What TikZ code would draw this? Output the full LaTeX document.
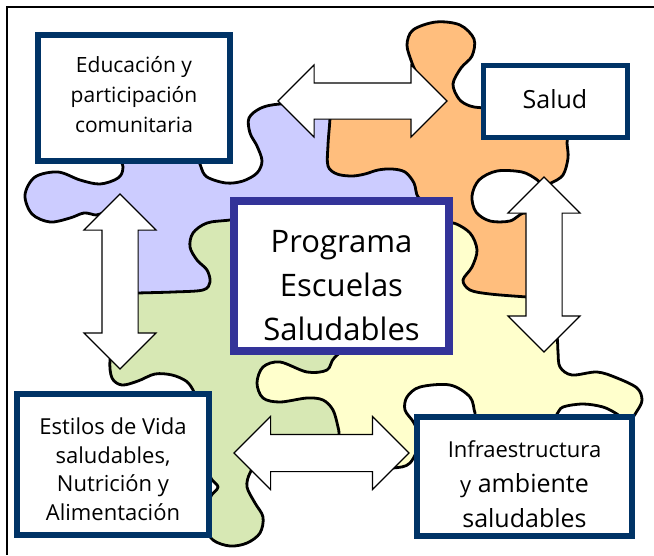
\documentclass[tikz,border=0pt]{standalone}
\usepackage{fontspec}
\setmainfont{Open Sans}
\usetikzlibrary{shapes.arrows}
\definecolor{pblue}{RGB}{204,204,255}
\definecolor{porange}{RGB}{255,190,125}
\definecolor{pgreen}{RGB}{215,232,180}
\definecolor{pyellow}{RGB}{255,255,204}
\definecolor{navy}{RGB}{0,51,102}
\definecolor{indigo}{RGB}{51,51,153}
\begin{document}
\begin{tikzpicture}[x=1pt,y=-1pt,
  piece/.style={draw=black,line width=2.8pt,line join=round},
  blockarrow/.style={double arrow, draw=black, fill=white, line width=1.1pt,
    inner xsep=0pt, inner ysep=17.5pt, double arrow head extend=18pt,
    minimum height=175pt},
  sidebox/.style={draw=navy, fill=white, line width=6pt, inner sep=0pt},
  mainbox/.style={draw=indigo, fill=white, line width=8pt, inner sep=0pt},
  txt/.style={align=center, inner sep=0pt, text=black}]
\useasboundingbox (0,0) rectangle (654,555);
\fill[white] (0,0) rectangle (654,555);
% blue piece
\filldraw[piece, fill=pblue] plot[smooth cycle, tension=0.55] coordinates {
 (120,140) (200,120) (199,156) (201,167) (207,177) (226,183) (243,181) (257,173)
 (262,161) (257,146) (250,133) (249,118) (261,108) (280,104) (320,103) (365,108)
 (405,140) (425,180) (432,210) (320,250) (250,305) (150,306) (118,306) (116,260)
 (112,213) (103,213) (96,215) (84,213) (70,218) (50,222) (32,214) (25,195)
 (35,177) (58,172) (80,180) (100,184) (118,178) (123,167)};
% orange piece
\filldraw[piece, fill=porange] plot[smooth cycle, tension=0.55] coordinates {
 (330,100) (365,92) (405,88) (418,80) (412,63) (407,45) (413,30) (436,22)
 (460,25) (474,39) (472,56) (461,68) (453,84) (459,99) (470,106) (484,108)
 (530,112) (566,125) (567,143) (568,158) (563,175) (551,183) (543,185) (536,179)
 (522,172) (497,171) (479,180) (472,196) (476,212) (490,221) (510,221) (527,213)
 (545,235) (546,300) (505,312) (448,306) (442,245) (430,206) (418,197) (414,183)
 (405,172) (392,169) (378,170) (365,174) (352,176) (337,174) (328,166) (328,145)
 (330,118)};
% green piece
\filldraw[piece, fill=pgreen] plot[smooth cycle, tension=0.55] coordinates {
 (120,294) (138,293) (173,292) (203,290) (210,282) (207,270) (197,260) (190,247)
 (193,233) (207,223) (230,220) (270,215) (330,300) (345,355) (348,400) (345,455)
 (300,462) (260,463) (250,473) (247,487) (255,503) (263,517) (260,533) (247,543)
 (230,546) (213,540) (205,525) (210,498) (218,487) (210,476) (200,440) (196,400)
 (193,390) (186,381) (172,375) (155,374) (138,381) (122,385) (112,378) (110,360)
 (116,340) (118,310)};
% yellow piece
\filldraw[piece, fill=pyellow] plot[smooth cycle, tension=0.55] coordinates {
 (453,223) (470,233) (477,250) (472,267) (463,280) (470,290) (490,294) (527,297)
 (545,298) (552,325) (557,337) (558,352) (560,367) (572,375) (597,372) (617,378)
 (637,388) (642,400) (637,411) (628,422) (617,414) (603,407) (583,404) (563,407)
 (557,414) (548,422) (480,422) (475,413) (470,397) (450,385) (420,387) (407,397)
 (405,410) (414,423) (420,440) (410,463) (393,468) (370,467) (339,465) (339,435)
 (338,427) (333,410) (323,400) (307,398) (280,402) (263,398) (257,383) (263,367)
 (280,362) (307,372) (327,370) (335,357) (360,340) (440,300) (445,230)};
% arrows
\node[blockarrow, minimum height=169pt] (arrA) at (362.5,101) {};
\node[blockarrow, rotate=90] (arrB) at (120,281.5) {};
\node[blockarrow, rotate=90] (arrC) at (544,264.5) {};
\node[blockarrow, inner ysep=18pt] (arrD) at (321.5,453) {};
% boxes
\node[sidebox, minimum width=192pt, minimum height=126pt] (edu) at (134,98) {};
\node[sidebox, minimum width=144pt, minimum height=72pt, line width=5pt] (salud) at (555.5,101.5) {};
\node[mainbox, minimum width=215pt, minimum height=150pt] (prog) at (341.5,276) {};
\node[sidebox, minimum width=192pt, minimum height=141pt] (est) at (113,464.5) {};
\node[sidebox, minimum width=215pt, minimum height=119pt] (infra) at (524.5,476.5) {};
% texts
\node[txt, font=\fontsize{21}{30}\selectfont] (edutxt) at (134,95) {Educación y\\participación\\comunitaria};
\node[txt, font=\fontsize{25}{30}\selectfont] (saludtxt) at (555,99) {Salud};
\node[txt, font=\fontsize{31}{44}\selectfont] (progtxt) at (341.5,286) {Programa\\Escuelas\\Saludables};
\node[txt, font=\fontsize{22}{28.5}\selectfont] (esttxt) at (113,469) {Estilos de Vida\\saludables,\\Nutrición y\\Alimentación};
\node[txt, font=\fontsize{25}{35}\selectfont] (infratxt) at (524.5,484) {{\fontsize{22}{35}\selectfont Infraestructura}\\{\fontsize{22}{35}\selectfont y} ambiente\\saludables};
% frame
\draw[line width=2pt] (654,7) -- (7,7) -- (7,555);
\end{tikzpicture}
\end{document}
